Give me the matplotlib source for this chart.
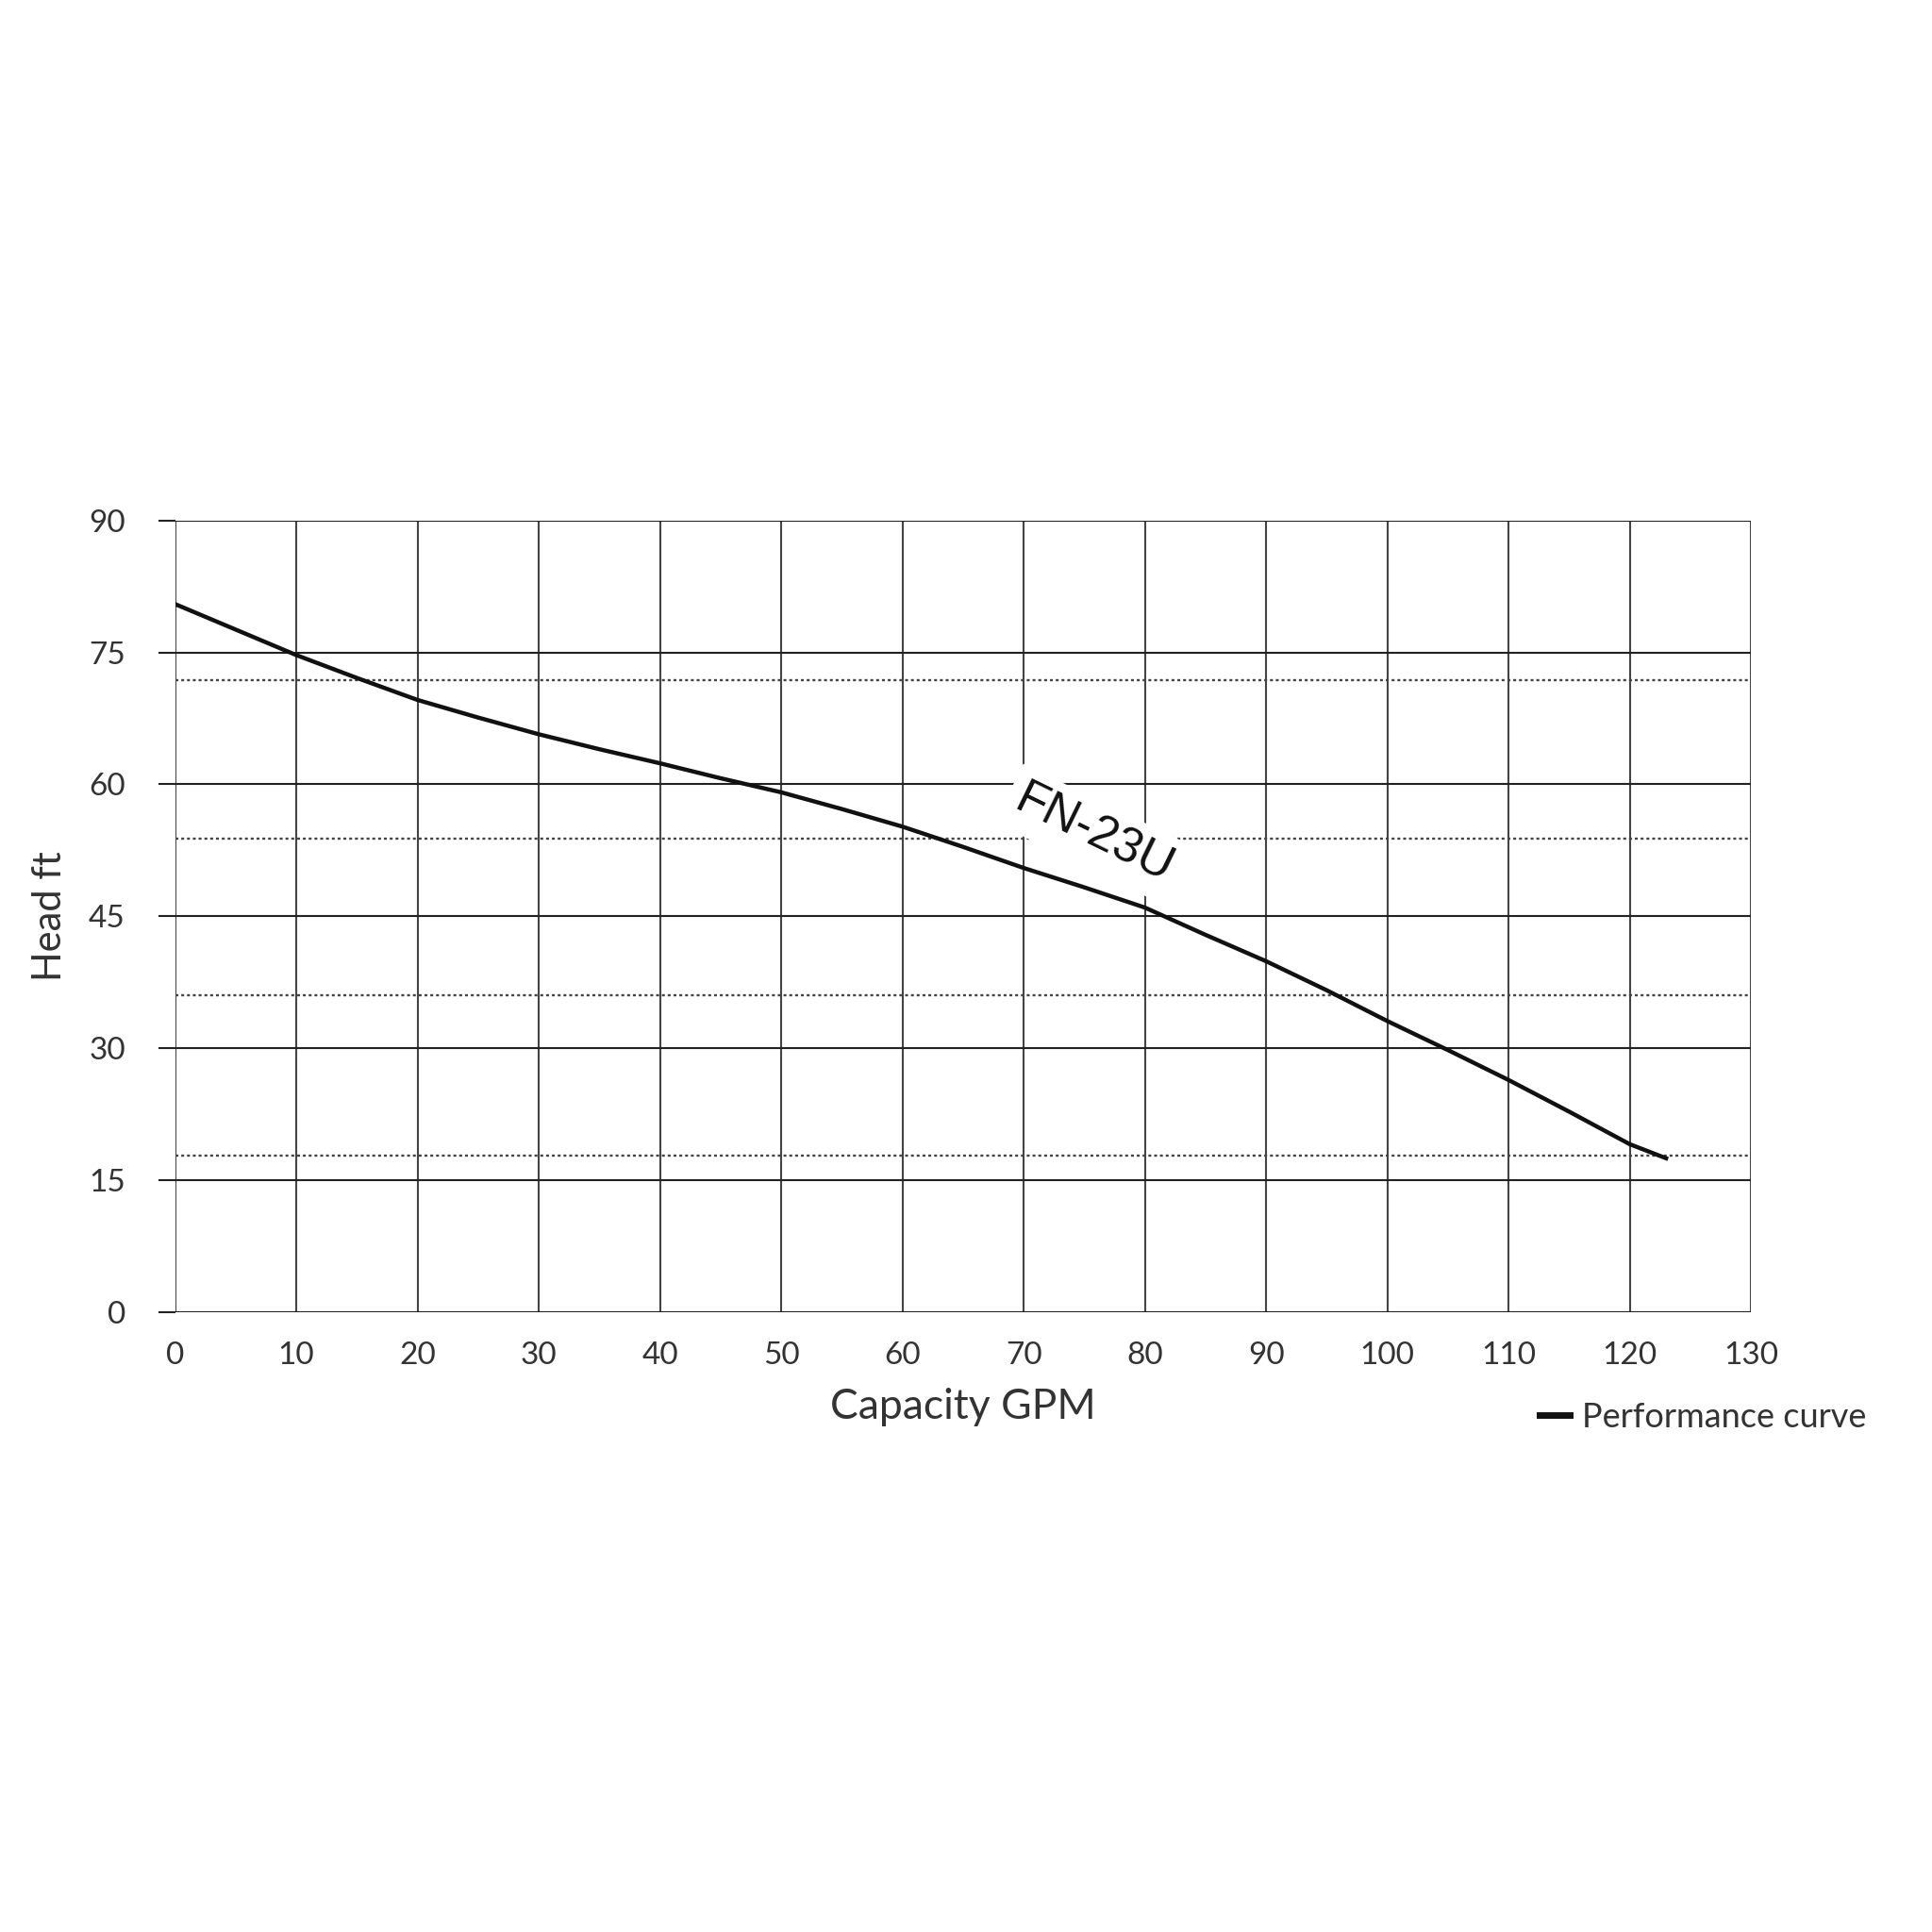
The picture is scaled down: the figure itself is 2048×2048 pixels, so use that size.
import matplotlib
matplotlib.use("Agg")
import matplotlib.pyplot as plt
from matplotlib.lines import Line2D

# pump performance data
capacity_gpm = [0, 5, 10, 15, 20, 25, 30, 35, 40, 45, 50, 55, 60, 65,
                70, 75, 80, 85, 90, 95, 100, 105, 110, 115, 120, 123]
head_ft = [80.5, 77.6, 74.7, 72.1, 69.6, 67.6, 65.7, 64.0, 62.4, 60.7, 59.1, 57.2, 55.2, 52.9,
           50.5, 48.3, 46.0, 42.9, 39.9, 36.6, 33.1, 29.8, 26.4, 22.8, 19.1, 17.5]

x_ticks = list(range(0, 131, 10))
y_ticks = list(range(0, 91, 15))
dotted_levels = [17.8, 36.0, 53.8, 71.9]

curve_name = "FN-23U"
legend_label = "Performance curve"

text_col = "#333333"
plt.rcParams['font.family'] = ['Lato', 'DejaVu Sans']

fig = plt.figure(figsize=(20.48, 20.48), dpi=100)
ax = fig.add_axes([0.0906, 0.3208, 0.8157, 0.4098])

ax.set_xlim(0, 130)
ax.set_ylim(0, 90)

# grid
for xv in x_ticks:
    ax.axvline(xv, color="#444444", lw=1.5, zorder=1)
for yv in y_ticks:
    ax.axhline(yv, color="#222222", lw=1.5, zorder=1)
for yv in dotted_levels:
    ax.axhline(yv, color="#444444", lw=1.7, ls=(0, (1.3, 1.3)), zorder=1)

for s in ax.spines.values():
    s.set_visible(False)

ax.set_xticks(x_ticks)
ax.set_yticks(y_ticks)
ax.tick_params(axis='x', length=0, pad=22, labelsize=24, labelcolor=text_col)
ax.tick_params(axis='y', length=13, width=1.5, color="#222222", direction='out',
               pad=25, labelsize=24, labelcolor=text_col)

ax.plot(capacity_gpm, head_ft, color="#111111", lw=3.2, zorder=3)

ax.text(75.8, 54.3, curve_name, rotation=-26, ha='center', va='center',
        fontsize=37, family=['Liberation Sans', 'DejaVu Sans'], color="#111111",
        rotation_mode='anchor', zorder=4,
        bbox=dict(boxstyle='square,pad=0.2', fc='white', ec='none'))

ax.set_xlabel("Capacity GPM", fontsize=32, color=text_col, labelpad=14)
ax.set_ylabel("Head ft", fontsize=30, color=text_col, labelpad=16)

handle = Line2D([], [], color="#111111", lw=5)
fig.legend(handles=[handle], labels=[legend_label], loc='center left',
           bbox_to_anchor=(0.781, 0.2666), frameon=False, fontsize=26,
           handlelength=0.9, handletextpad=0.35, labelcolor=text_col)

fig.savefig("out.png", dpi=100, facecolor='white')
